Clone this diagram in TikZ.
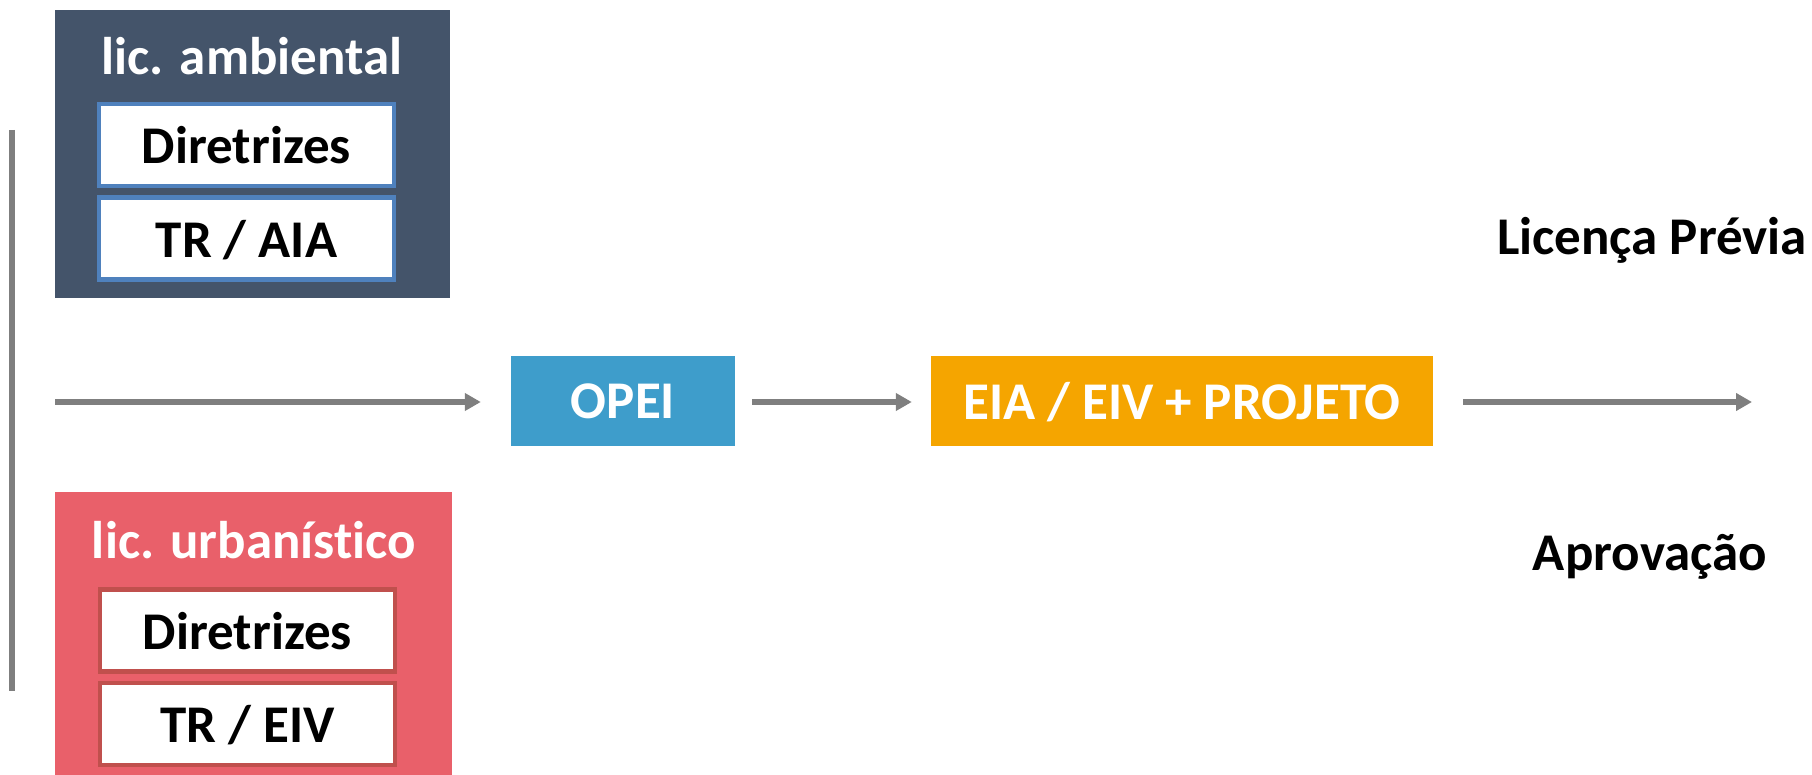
\documentclass[tikz,border=0pt]{standalone}
\usepackage{fontspec}
\setmainfont{Carlito}[Ligatures=NoCommon]
\usetikzlibrary{arrows.meta}
\definecolor{darkbox}{HTML}{44546A}
\definecolor{bluebd}{HTML}{4F81BD}
\definecolor{redbox}{HTML}{E9606A}
\definecolor{redbd}{HTML}{C0504D}
\definecolor{opeiblue}{HTML}{3E9DCB}
\definecolor{orangebox}{HTML}{F5A500}
\definecolor{arrowgray}{HTML}{7F7F7F}
\tikzset{
  big/.style={font=\bfseries\fontsize{53}{60}\selectfont},
  panel/.style={inner sep=0pt, draw=none},
  itembox/.style={big, fill=white, line width=4.5pt, inner sep=0pt, text depth=0pt,
                  minimum width=295pt, minimum height=82pt, text=black},
  stepbox/.style={big, text=white, inner sep=0pt, text depth=0pt, minimum height=90pt},
  flow/.style={draw=arrowgray, line width=5.5pt, -{Triangle[length=16pt,width=17pt]}},
}
\begin{document}
\begin{tikzpicture}[x=1pt,y=-1pt]
\useasboundingbox (0,0) rectangle (1812,775);
% panels
\node[panel, fill=darkbox, minimum width=395pt, minimum height=288pt] (amb) at (252.5,154) {};
\node[big, text=white, anchor=base] (ambt) at (252,75) {lic. ambiental};
\node[itembox, draw=bluebd] (dir1) at (246.5,145) {Diretrizes};
\node[itembox, draw=bluebd] (tr1) at (246.5,238.5) {TR / AIA};

\node[panel, fill=redbox, minimum width=397pt, minimum height=290pt] (urb) at (253.5,637) {};
\node[big, text=white, anchor=base] (urbt) at (254,558) {lic. urbanístico};
\node[itembox, draw=redbd] (dir2) at (247.5,630.5) {Diretrizes};
\node[itembox, draw=redbd] (tr2) at (247.5,724) {TR / EIV};

% vertical line
\coordinate (vtop) at (12,130);
\coordinate (vbot) at (12,691);
\draw[arrowgray, line width=5.5pt] (vtop) -- (vbot);

% flow
\node[stepbox, fill=opeiblue, minimum width=224pt] (opei) at (623,401) {OPEI};
\node[stepbox, fill=orangebox, minimum width=502pt] (eia) at (1182,401) {EIA / EIV + PROJETO};
\coordinate (start) at (55,402);
\coordinate (finish) at (1752,402);
\draw[flow, shorten >=30pt] (start) -- (opei.west |- start);
\draw[flow, shorten <=17pt, shorten >=19pt] (opei.east |- start) -- (eia.west |- start);
\draw[flow, shorten <=30pt] (eia.east |- finish) -- (finish);

\node[big, anchor=base] (lp) at (1652,255) {Licença Prévia};
\node[big, anchor=base] (ap) at (1650,570) {Aprovação};
\end{tikzpicture}
\end{document}
